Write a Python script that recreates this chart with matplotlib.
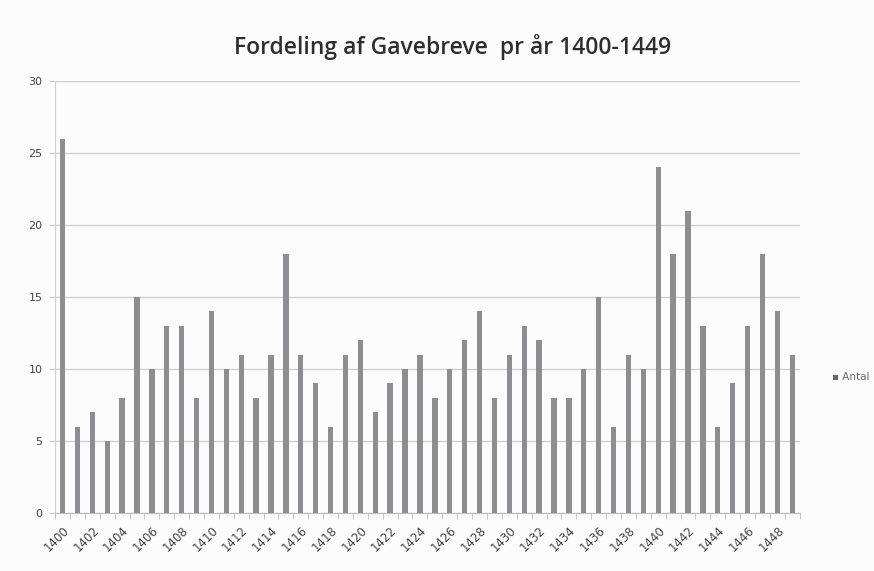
import matplotlib
matplotlib.use("Agg")
import matplotlib.pyplot as plt
import numpy as np

years = list(range(1400, 1450))
antal = [26, 6, 7, 5, 8, 15, 10, 13, 13, 8,
         14, 10, 11, 8, 11, 18, 11, 9, 6, 11,
         12, 7, 9, 10, 11, 8, 10, 12, 14, 8,
         11, 13, 12, 8, 8, 10, 15, 6, 11, 10,
         24, 18, 21, 13, 6, 9, 13, 18, 14, 11]
yticks = [0, 5, 10, 15, 20, 25, 30]
title = "Fordeling af Gavebreve  pr år 1400-1449"
series_name = "Antal"

fig = plt.figure(figsize=(8.74, 5.71), dpi=100)
fig.patch.set_facecolor("#fcfcfc")
ax = fig.add_axes([0.063, 0.1016, 0.852, 0.7564])
ax.set_facecolor("#fcfcfc")

x = np.arange(len(years))
ax.bar(x, antal, width=0.36, color="#8e8e90", zorder=3, label=series_name)

ax.set_xlim(-0.5, len(years) - 0.5)
ax.set_ylim(0, 30)
ax.set_yticks(yticks)
ax.set_yticklabels([str(v) for v in yticks], fontsize=8, color="#444444", family="DejaVu Sans")
ax.grid(axis="y", color="#cfcfcf", linewidth=1, zorder=0)

ax.set_xticks(x[::2])
ax.set_xticklabels([str(y) for y in years[::2]], rotation=45, ha="right",
                   rotation_mode="anchor", fontsize=8.5, color="#444444")
ax.set_xticks(np.arange(-0.5, len(years), 1), minor=True)
ax.tick_params(axis="x", which="major", length=0, pad=8)
ax.tick_params(axis="x", which="minor", length=4, color="#bbbbbb", direction="out")
ax.tick_params(axis="y", length=4, color="#cccccc", pad=5)

for s in ["top", "right"]:
    ax.spines[s].set_visible(False)
ax.spines["left"].set_color("#d0d0d0")
ax.spines["bottom"].set_color("#bbbbbb")

fig.text(0.518, 0.918, title, ha="center", va="center", fontsize=16.5,
         fontweight="semibold", family="Open Sans", color="#2e2e2e")

fig.text(0.952, 0.34, "▪ " + series_name, ha="left", va="center", fontsize=7.5, color="#666666")

fig.savefig("out.png", dpi=100, facecolor=fig.get_facecolor())
